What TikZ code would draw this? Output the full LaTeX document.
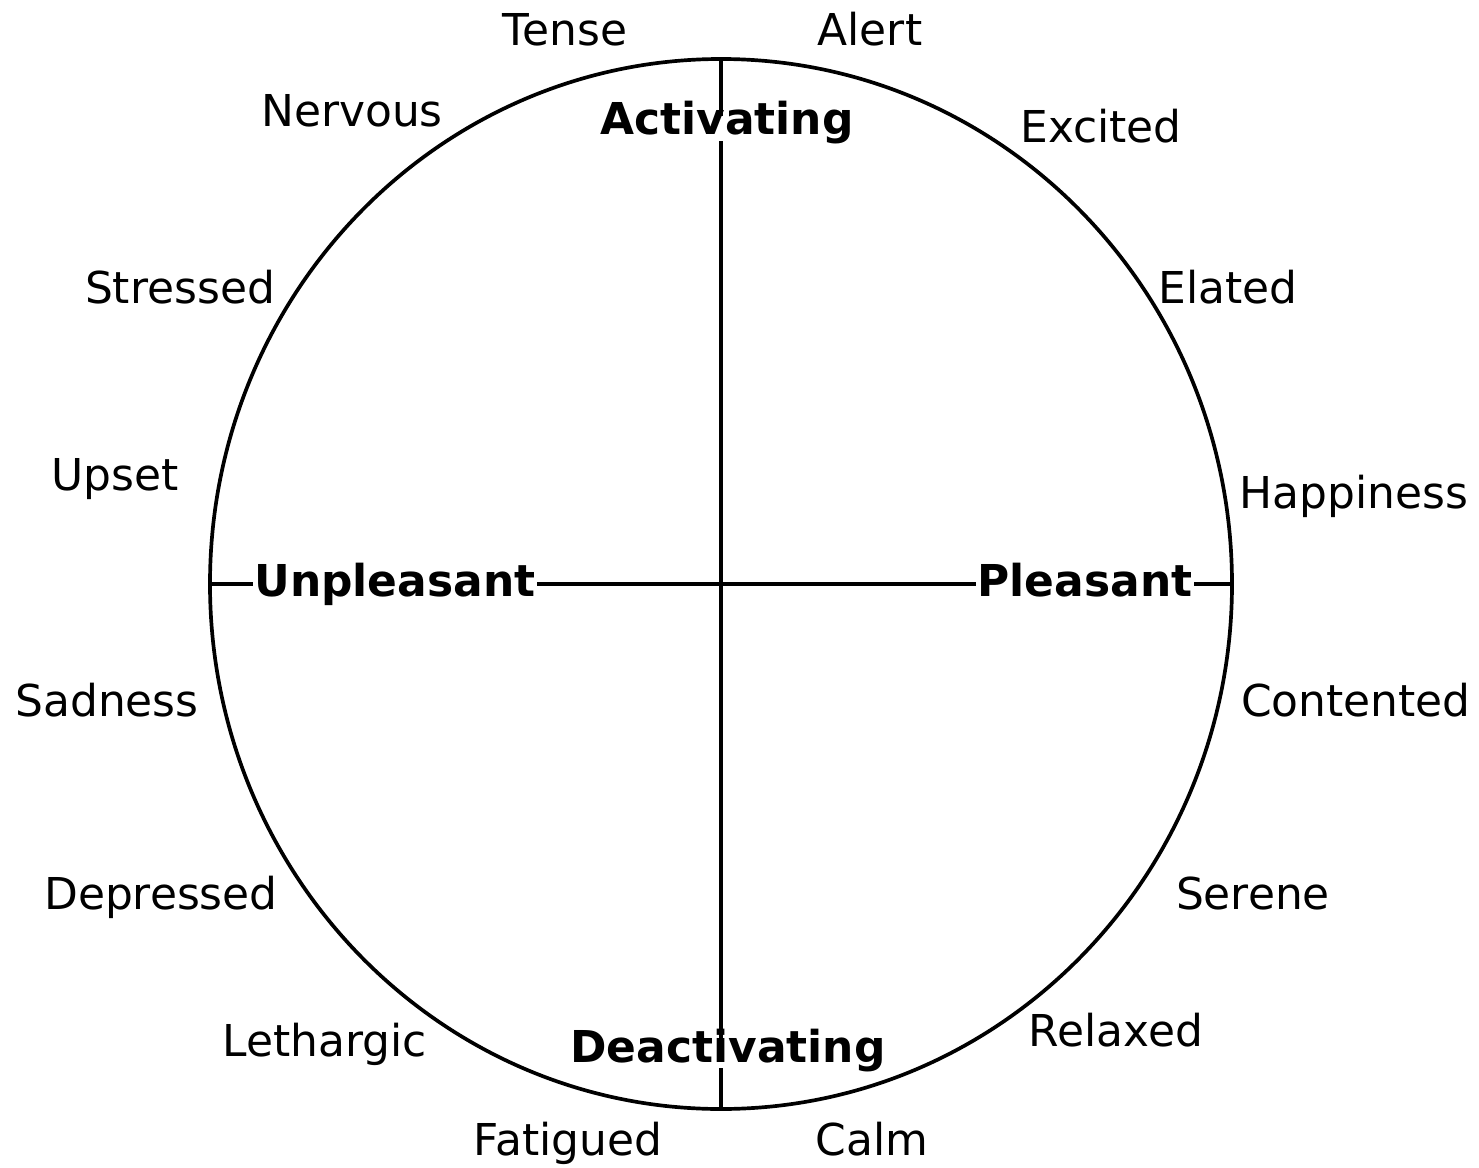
\documentclass[tikz,border=0pt]{standalone}
\usepackage{fontspec}
\setmainfont{DejaVu Sans}
\usetikzlibrary{calc}

\begin{document}
\begin{tikzpicture}[x=0.02cm,y=0.02cm,line width=2.1pt,
    mood/.style={anchor=base,inner sep=0pt,font=\fontsize{25}{30}\selectfont},
    axis/.style={mood,font=\fontsize{25}{30}\selectfont\bfseries,text height=1em,text depth=0.24em}]
    \useasboundingbox (-721,-583) rectangle (758,584);
    % circumplex
    \draw (0,0) ellipse [x radius=511,y radius=525];
    \coordinate (top) at (0,525);
    \coordinate (bot) at (0,-525);
    \coordinate (lft) at (-511,0);
    \coordinate (rgt) at (511,0);
    % axis labels
    \node[axis] (act) at (6,449) {Activating};
    \node[axis] (deact) at (7,-478) {Deactivating};
    \node[axis] (unpl) at (-326,-12) {Unpleasant};
    \node[axis] (pleas) at (364,-12) {Pleasant};
    \draw (top) -- (top |- act.north) (top |- act.south) -- (top |- deact.north)
          (top |- deact.south) -- (bot);
    \draw (lft) -- (unpl.west |- lft) (unpl.east |- lft) -- (pleas.west |- lft)
          (pleas.east |- lft) -- (rgt);
    % moods around the circle
    \foreach \x/\y/\t in {-156/538/Tense,149/538/Alert,-369/457/Nervous,380/441/Excited,
        -541/281/Stressed,507/281/Elated,-606/94/Upset,633/76/Happiness,
        -614/-132/Sadness,635/-132/Contented,-560/-325/Depressed,532/-325/Serene,
        -396/-472/Lethargic,395/-462/Relaxed,-153/-571/Fatigued,151/-571/Calm}
      \node[mood] (\t) at (\x,\y) {\t};
\end{tikzpicture}
\end{document}
